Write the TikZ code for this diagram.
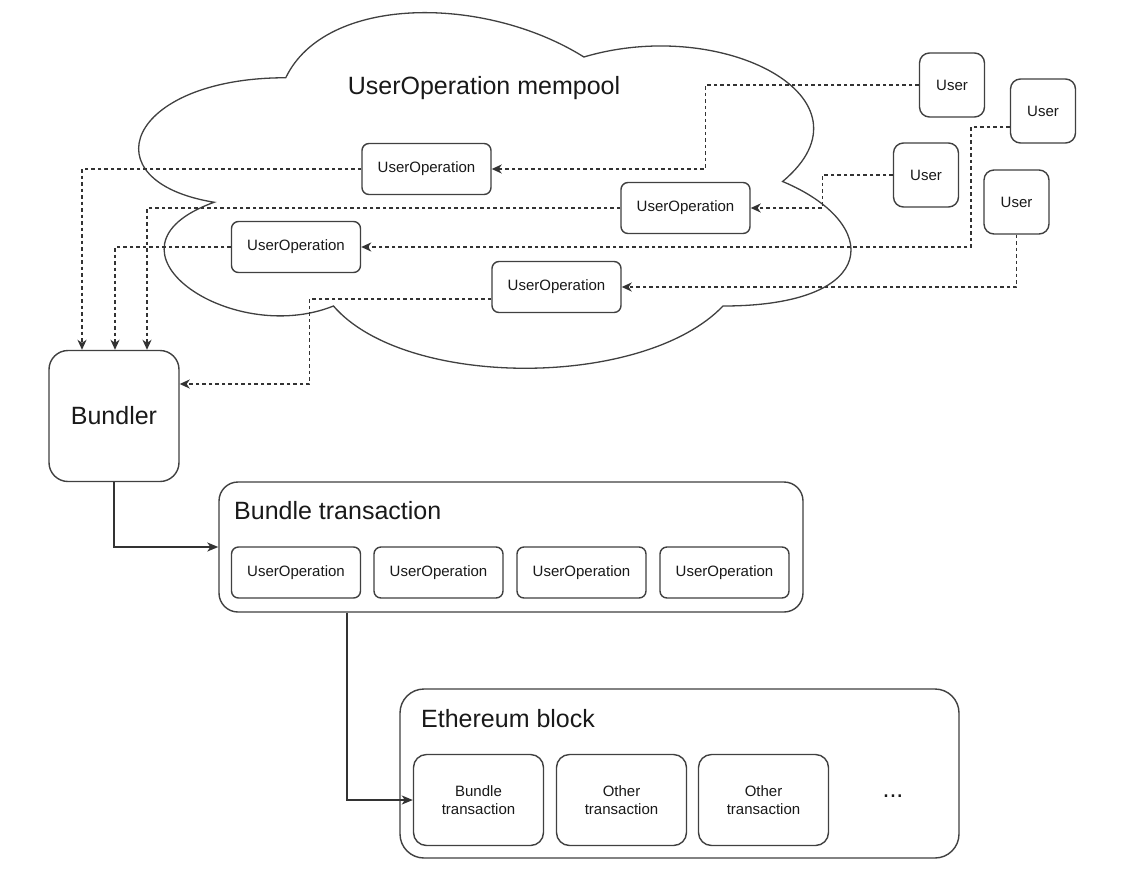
\documentclass[tikz,border=0pt]{standalone}
\usepackage{fontspec}
\setmainfont{Liberation Sans}
\usetikzlibrary{arrows.meta}
\begin{document}
\begin{tikzpicture}[x=1pt,y=-1pt,
  every node/.style={text=black!90},
  sm/.style={font=\fontsize{15}{18}\selectfont},
  lg/.style={font=\fontsize{25}{30}\selectfont},
  bx/.style={draw=black!75, line width=1.4pt, fill=white, inner sep=0pt},
  uop/.style={bx, rounded corners=7pt, minimum width=129pt, minimum height=51pt, sm},
  usr/.style={bx, rounded corners=10pt, minimum width=65pt, minimum height=64pt, sm},
  tx/.style={bx, rounded corners=13pt, minimum width=130pt, minimum height=91pt, sm, align=center},
  dsh/.style={draw=black!80, line width=1.5pt, dash pattern=on 3.5pt off 3pt, -{Stealth[length=10pt,width=9pt,inset=3pt]}},
  sol/.style={draw=black!80, line width=1.4pt, -{Stealth[length=11pt,width=9pt,inset=3pt]}},
]
\fill[white] (0,0) rectangle (1127,868);
\useasboundingbox (0,0) rectangle (1127,868);

% cloud
\draw[draw=black!75, line width=1.3pt]
  (285.75,77.75) .. controls (126.75,77.75) and (87,181.5) .. (214.2,202.25)
  .. controls (87,247.9) and (230.1,347.5) .. (333.45,306)
  .. controls (405,389) and (643.5,389) .. (723,306)
  .. controls (882,306) and (882,223) .. (782.6,181.5)
  .. controls (882,98.5) and (723,15.5) .. (583.9,57)
  .. controls (484.5,-5.25) and (325.5,-5.25) .. (285.75,77.75) -- cycle;
\node[lg] (title) at (484,88) {UserOperation mempool};

% users
\node[usr] (U1) at (952,85) {User};
\node[usr] (U2) at (1043,111) {User};
\node[usr] (U3) at (926,175) {User};
\node[usr] (U4) at (1016.5,202) {User};

% user operations in mempool
\node[uop] (O1) at (426.5,169) {UserOperation};
\node[uop] (O2) at (685.5,208) {UserOperation};
\node[uop] (O3) at (296,247) {UserOperation};
\node[uop] (O4) at (556.5,287) {UserOperation};

% bundler
\node[bx, rounded corners=19pt, minimum width=130pt, minimum height=131pt, lg] (B) at (114,416) {Bundler};

% bundle transaction
\node[bx, rounded corners=19pt, minimum width=584pt, minimum height=130pt] (BT) at (511,547) {};
\node[lg, anchor=west, inner sep=0pt] (BTt) at (234,511) {Bundle transaction};
\node[uop] (BO1) at (296,572.5) {UserOperation};
\node[uop] (BO2) at (438.5,572.5) {UserOperation};
\node[uop] (BO3) at (581.5,572.5) {UserOperation};
\node[uop] (BO4) at (724.5,572.5) {UserOperation};

% ethereum block
\node[bx, rounded corners=24pt, minimum width=559pt, minimum height=169pt] (EB) at (679.5,773.5) {};
\node[lg, anchor=west, inner sep=0pt] (EBt) at (421,719) {Ethereum block};
\node[tx] (T1) at (478.5,800) {Bundle\\transaction};
\node[tx] (T2) at (621.5,800) {Other\\transaction};
\node[tx] (T3) at (763.5,800) {Other\\transaction};
\node[lg] (dots) at (893,796) {...};

% connectors users -> mempool
\draw[dsh] (U1.west) -| ([xshift=214pt]O1.east) -- (O1.east);
\draw[dsh] (U3.west) -| ([xshift=72pt]O2.east) -- (O2.east);
\draw[dsh] ([yshift=-16pt]U2.west) -| ([xshift=610pt]O3.east) -- (O3.east);
\draw[dsh] (U4.south) |- (O4.east);

% mempool -> bundler
\draw[dsh] (O1.west) -| ([xshift=-32pt]B.north);
\draw[dsh] (O3.west) -| ([xshift=1pt]B.north);
\draw[dsh] (O2.west) -| ([xshift=33pt]B.north);
\draw[dsh] ([yshift=-12pt]O4.west) -| ([xshift=130pt,yshift=32pt]B.east) -- ([yshift=32pt]B.east);

% solid flow
\draw[sol] (B.south) |- (BT.west);
\draw[sol] ([xshift=-164pt]BT.south) |- (T1.west);
\end{tikzpicture}
\end{document}
